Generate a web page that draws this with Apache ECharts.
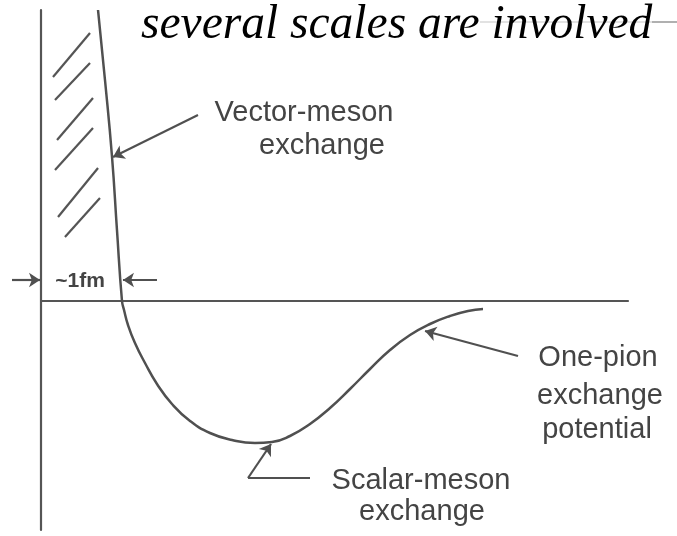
<!DOCTYPE html>
<html>
<head>
<meta charset="utf-8">
<script src="https://cdn.jsdelivr.net/npm/echarts@6/dist/echarts.min.js"></script>
<style>
  html, body { margin: 0; padding: 0; background: #fff; }
  #main { width: 677px; height: 536px; }
</style>
</head>
<body>
<div id="main"></div>
<script>
// radius r in fm, potential V in arbitrary units
var rFm = [0.704, 0.790, 0.877, 0.938, 1.000, 1.025, 1.074, 1.160, 1.284, 1.432, 1.617, 1.840,
           2.086, 2.358, 2.642, 2.852, 3.074, 3.321, 3.568, 3.815, 4.062, 4.309, 4.556, 4.802,
           5.049, 5.272, 5.457];
var vPot = [2.91, 2.21, 1.44, 0.71, 0, -0.09, -0.24, -0.42, -0.62, -0.83, -1.03, -1.20,
            -1.32, -1.39, -1.42, -1.41, -1.35, -1.23, -1.07, -0.88, -0.68, -0.49, -0.34, -0.23,
            -0.15, -0.10, -0.08];

// hard-core hatching strokes [r1, V1, r2, V2]
var hatchStrokes = [
    [0.148, 2.24, 0.605, 2.68],
    [0.173, 2.01, 0.605, 2.38],
    [0.198, 1.61, 0.642, 2.03],
    [0.173, 1.31, 0.642, 1.73],
    [0.210, 0.84, 0.704, 1.33],
    [0.296, 0.64, 0.728, 1.03]
];

// pointer arrows [rFrom, VFrom, rTo, VTo]
var arrowSegs = [
    [1.938, 1.86, 0.889, 1.44],     // vector-meson
    [5.889, -0.55, 4.741, -0.30],   // one-pion
    [2.556, -1.77, 2.840, -1.43],   // scalar-meson
    [-0.358, 0.21, -0.012, 0.21],   // ~1fm left
    [1.432, 0.21, 1.012, 0.21]      // ~1fm right
];
var plainSegs = [
    [3.321, -1.77, 2.556, -1.77]
];

var titleText = 'several scales are involved';
var labelVector = ['Vector-meson', 'exchange'];
var labelPion = ['One-pion', 'exchange', 'potential'];
var labelScalar = ['Scalar-meson', 'exchange'];
var labelWidth = '~1fm';

var myChart = echarts.init(document.getElementById('main'));

function toLines(arr) {
    return arr.map(function (s) {
        return { coords: [[s[0], s[1]], [s[2], s[3]]] };
    });
}

var ink = '#444';
var sansFont = '"Liberation Sans", Arial, sans-serif';

function label(text, x, y) {
    return {
        type: 'text', x: x, y: y,
        style: { text: text, font: '29px ' + sansFont, fill: ink, align: 'center', verticalAlign: 'middle' }
    };
}

var option = {
    animation: false,
    backgroundColor: '#fff',
    grid: { left: 41, right: 49, top: 10, bottom: 6 },
    xAxis: {
        type: 'value',
        min: 0,
        max: 7.247,
        axisLine: { onZero: true, lineStyle: { color: '#555', width: 2.2 } },
        axisTick: { show: false },
        axisLabel: { show: false },
        splitLine: { show: false }
    },
    yAxis: {
        type: 'value',
        min: -2.29,
        max: 2.91,
        axisLine: { show: true, onZero: true, lineStyle: { color: '#555', width: 2.2 } },
        axisTick: { show: false },
        axisLabel: { show: false },
        splitLine: { show: false }
    },
    series: [
        {
            name: 'potential',
            type: 'line',
            data: rFm.map(function (r, i) { return [r, vPot[i]]; }),
            smooth: 0.5,
            showSymbol: false,
            lineStyle: { color: '#505050', width: 2.5 }
        },
        {
            name: 'hatch',
            type: 'lines',
            coordinateSystem: 'cartesian2d',
            data: toLines(hatchStrokes),
            lineStyle: { color: '#555', width: 2.2, opacity: 1 }
        },
        {
            name: 'pointers',
            type: 'lines',
            coordinateSystem: 'cartesian2d',
            clip: false,
            symbol: ['none', 'arrow'],
            symbolSize: 11,
            data: toLines(arrowSegs),
            lineStyle: { color: '#505050', width: 2.2, opacity: 1 }
        },
        {
            name: 'pointer tails',
            type: 'lines',
            coordinateSystem: 'cartesian2d',
            data: toLines(plainSegs),
            lineStyle: { color: '#505050', width: 2.2, opacity: 1 }
        }
    ],
    graphic: [
        {
            type: 'line', shape: { x1: 480, y1: 22, x2: 677, y2: 22 },
            style: { stroke: '#e2e2e2', lineWidth: 2 }
        },
        {
            type: 'line', shape: { x1: 652, y1: 22, x2: 677, y2: 22 },
            style: { stroke: '#b0b0b0', lineWidth: 2 }
        },
        {
            type: 'text', left: 141, top: 2,
            style: { text: titleText, font: 'italic 47.5px "Liberation Serif", "Times New Roman", serif', fill: '#000' }
        },
        label(labelVector[0], 304, 113),
        label(labelVector[1], 322, 146),
        label(labelPion[0], 598, 358),
        label(labelPion[1], 600, 396),
        label(labelPion[2], 597, 430),
        label(labelScalar[0], 421, 481),
        label(labelScalar[1], 422, 512),
        {
            type: 'text', x: 80, y: 281,
            style: { text: labelWidth, font: 'bold 21px ' + sansFont, fill: ink, align: 'center', verticalAlign: 'middle' }
        }
    ]
};

myChart.setOption(option);
</script>
</body>
</html>
